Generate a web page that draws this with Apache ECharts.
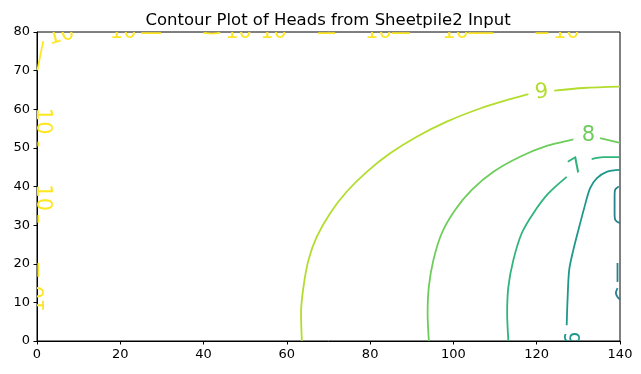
<!DOCTYPE html>
<html>
<head>
<meta charset="utf-8">
<script src="https://cdn.jsdelivr.net/npm/echarts@6/dist/echarts.min.js"></script>
<style>
html,body{margin:0;padding:0;background:#fff;}
#chart{width:641px;height:374px;}
</style>
</head>
<body>
<div id="chart"></div>
<script>
// Axis ticks
const xTicks = [0, 20, 40, 60, 80, 100, 120, 140];
const yTicks = [0, 10, 20, 30, 40, 50, 60, 70, 80];

// Contour levels shown
const levels = [5, 6, 7, 8, 9, 10];

// Contour lines: [x, y] points, null = break (label gap)
const contour10 = [
  [0.1, 70.1], [0.8, 74.0], [1.5, 77.6], null,
  [25.0, 79.7], [29.8, 79.7], null,
  [40.0, 79.8], [42.0, 79.6], [44.0, 79.8], null,
  [67.5, 79.7], [71.6, 79.7], null,
  [85.2, 79.7], [89.6, 79.7], null,
  [103.6, 79.7], [109.6, 79.7], null,
  [119.7, 79.7], [122.8, 79.7], null,
  [0.3, 50.4], [0.3, 51.6], null,
  [0.3, 30.6], [0.3, 32.6], null,
  [0.3, 16.6], [0.3, 20.2]
];
const contour9 = [
  [63.6, 0], [63.4, 7.2], [64.0, 14.1], [65.2, 21.0], [67.2, 27.0], [70.4, 33.1],
  [74.4, 38.7], [79.2, 43.8], [84.8, 48.6], [91.2, 52.9], [98.4, 56.8],
  [106.4, 60.2], [113.6, 62.6], [118.0, 63.9], null,
  [124.2, 64.8], [131.2, 65.5], [140, 65.85]
];
const contour8 = [
  [94.1, 0], [93.8, 7.2], [94.1, 14.1], [95.2, 21.0], [97.2, 27.9], [100.4, 33.9],
  [104.4, 39.1], [109.6, 43.8], [116.0, 47.7], [122.4, 50.5], [128.8, 52.2], null,
  [135.2, 52.5], [140, 51.3]
];
const contour7 = [
  [113.2, 0], [112.9, 7.2], [113.2, 14.1], [114.4, 21.0], [116.4, 27.9], [119.2, 33.1],
  [122.8, 38.2], [127.2, 42.5], null,
  [133.2, 47.1], [136.0, 47.6], [140, 47.6]
];
const contour6 = [
  [127.2, 4.1], [127.4, 10.6], [127.8, 18.4], [128.8, 23.6], [130.0, 28.7],
  [131.4, 34.4], [132.8, 39.5], [134.4, 42.1], [136.8, 43.8], [140, 44.3]
];
const contour5 = [
  [139.7, 40.0], [138.8, 39.1], [138.7, 37.4], [138.7, 33.1], [138.9, 31.3], [140, 30.5], null,
  [139.4, 20.2], [139.4, 15.3], null,
  [139.4, 13.7], [139.0, 12.4], [139.4, 11.4], [140, 10.75]
];

// Inline contour labels: [x, y, level]
const labelPoints = [
  [121.2, 64.4, 9], [132.4, 53.2, 8], [129.6, 45.1, 7], [129.0, 0.67, 6],
  [5.8, 79.0, 10], [20.7, 79.8, 10], [48.4, 79.8, 10], [56.8, 79.8, 10],
  [82.0, 79.8, 10], [100.5, 79.8, 10], [127.1, 79.8, 10],
  [1.4, 56.9, 10], [1.4, 37.1, 10], [0.3, 10.9, 10]
];
const labelAngles = [7, 0, 32, 90, 15, 0, 0, 0, 0, 0, 0, -90, -90, 90];

const levelColors = {
  5: '#26828e', 6: '#1f988b', 7: '#2fb47c', 8: '#6ccd5a', 9: '#b2dd2d', 10: '#fde725'
};

function segments(arr) {
  const out = []; let cur = [];
  arr.forEach(p => { if (p === null) { if (cur.length) out.push(cur); cur = []; } else cur.push(p); });
  if (cur.length) out.push(cur);
  return out;
}

const contours = [[10, contour10], [9, contour9], [8, contour8], [7, contour7], [6, contour6], [5, contour5]];
const series = [];
contours.forEach(([lvl, arr]) => {
  segments(arr).forEach(seg => {
    series.push({
      type: 'line', data: seg, symbol: 'none', showSymbol: false, smooth: 0.3,
      clip: true, silent: true, animation: false,
      lineStyle: { color: levelColors[lvl], width: 1.8 }
    });
  });
});
series.push({
  type: 'custom', coordinateSystem: 'cartesian2d', clip: true, silent: true, animation: false, z: 5,
  data: labelPoints.map(p => [p[0], p[1]]),
  renderItem: function (params, api) {
    const pt = api.coord([api.value(0), api.value(1)]);
    const lp = labelPoints[params.dataIndex];
    return {
      type: 'text', x: pt[0], y: pt[1],
      rotation: labelAngles[params.dataIndex] * Math.PI / 180,
      style: {
        text: String(lp[2]), fill: levelColors[lp[2]],
        font: '21px "DejaVu Sans"', align: 'center', verticalAlign: 'middle'
      }
    };
  }
});

const chart = echarts.init(document.getElementById('chart'), null, { renderer: 'canvas' });
const axisCommon = {
  type: 'value',
  axisLine: { show: true, onZero: false, lineStyle: { color: '#000', width: 1 } },
  axisTick: { show: true, length: 3.5, lineStyle: { color: '#000', width: 1 } },
  axisLabel: { color: '#000', fontSize: 13, fontFamily: 'DejaVu Sans', margin: 7 },
  splitLine: { show: false }
};
chart.setOption({
  animation: false,
  backgroundColor: '#fff',
  title: {
    text: 'Contour Plot of Heads from Sheetpile2 Input',
    left: 323, top: 7, textAlign: 'center',
    textStyle: { fontFamily: 'DejaVu Sans', fontSize: 16.5, fontWeight: 'normal', color: '#000' }
  },
  grid: { left: 37, right: 21, top: 32, bottom: 33, show: true, borderColor: '#000', borderWidth: 1, backgroundColor: 'transparent' },
  xAxis: Object.assign({}, axisCommon, { min: xTicks[0], max: xTicks[xTicks.length - 1], interval: xTicks[1] - xTicks[0] }),
  yAxis: Object.assign({}, axisCommon, { min: yTicks[0], max: yTicks[yTicks.length - 1], interval: yTicks[1] - yTicks[0] }),
  series: series
});
</script>
</body>
</html>
